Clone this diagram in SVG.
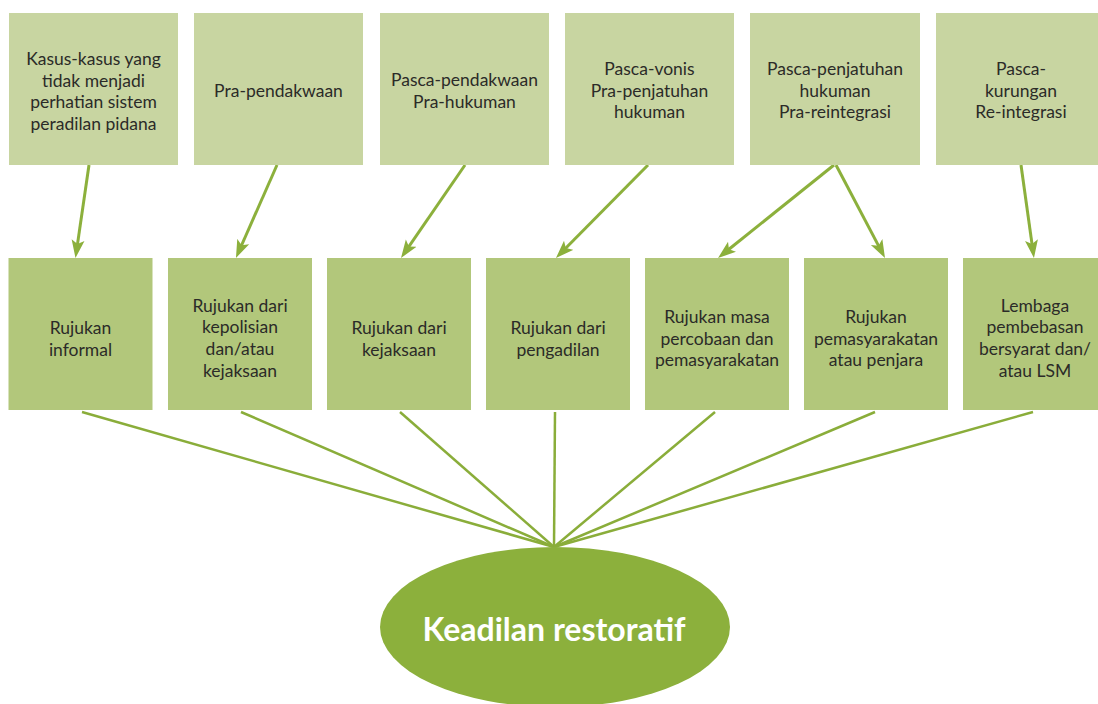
<svg xmlns="http://www.w3.org/2000/svg" width="1098" height="704" viewBox="0 0 1098 704">
<style>
.top{fill:#c8d5a1}
.mid{fill:#b2c77b}
.t{font-family:Lato,"Liberation Sans",sans-serif;font-size:17.5px;fill:#2b2b28;text-anchor:middle}
.arr{stroke:#8cb03c;stroke-width:3;fill:none;marker-end:url(#ah)}
.fan{stroke:#8aad3a;stroke-width:2.5;fill:none}
.big{font-family:Lato,"Liberation Sans",sans-serif;font-weight:bold;font-size:32px;fill:#ffffff;text-anchor:middle}
</style>
<defs>
<marker id="ah" markerUnits="userSpaceOnUse" markerWidth="18" markerHeight="14" refX="6" refY="7" orient="auto" viewBox="0 0 18 14">
<path d="M0,0.5 L18,7 L0,13.5 L4,7 z" fill="#8cb03c"/>
</marker>
</defs>
<rect width="1098" height="704" fill="#ffffff"/>
<g id="connectors">
<line class="arr" x1="89" y1="165" x2="77.2" y2="246.1"/>
<line class="arr" x1="277" y1="165" x2="240.8" y2="247"/>
<line class="arr" x1="465" y1="165" x2="407.8" y2="248.1"/>
<line class="arr" x1="648" y1="165" x2="564.4" y2="249.5"/>
<line class="arr" x1="834" y1="165" x2="727.4" y2="250.5"/>
<line class="arr" x1="836" y1="165" x2="879.4" y2="247.4"/>
<line class="arr" x1="1021" y1="165" x2="1032.3" y2="246.1"/>
<line class="fan" x1="82" y1="412" x2="554" y2="547"/>
<line class="fan" x1="241" y1="412" x2="554" y2="547"/>
<line class="fan" x1="400" y1="412" x2="554" y2="547"/>
<line class="fan" x1="555" y1="412" x2="554" y2="547"/>
<line class="fan" x1="715" y1="412" x2="554" y2="547"/>
<line class="fan" x1="875" y1="412" x2="554" y2="547"/>
<line class="fan" x1="1033" y1="412" x2="554" y2="547"/>
</g>
<g id="n-top1"><rect class="top" x="9" y="13" width="169" height="152"/>
<text class="t" x="93.5" y="65">Kasus-kasus yang</text><text class="t" x="93.5" y="86.7">tidak menjadi</text><text class="t" x="93.5" y="108.3">perhatian sistem</text><text class="t" x="93.5" y="130">peradilan pidana</text></g>
<g id="n-top2"><rect class="top" x="194" y="13" width="169" height="152"/>
<text class="t" x="278.5" y="97">Pra-pendakwaan</text></g>
<g id="n-top3"><rect class="top" x="380" y="13" width="169" height="152"/>
<text class="t" x="464.5" y="86">Pasca-pendakwaan</text><text class="t" x="464.5" y="107.7">Pra-hukuman</text></g>
<g id="n-top4"><rect class="top" x="565" y="13" width="169" height="152"/>
<text class="t" x="649.5" y="75">Pasca-vonis</text><text class="t" x="649.5" y="96.7">Pra-penjatuhan</text><text class="t" x="649.5" y="118.4">hukuman</text></g>
<g id="n-top5"><rect class="top" x="750" y="13" width="170" height="152"/>
<text class="t" x="835" y="75">Pasca-penjatuhan</text><text class="t" x="835" y="96.7">hukuman</text><text class="t" x="835" y="118.4">Pra-reintegrasi</text></g>
<g id="n-top6"><rect class="top" x="936" y="13" width="170" height="152"/>
<text class="t" x="1021" y="75">Pasca-</text><text class="t" x="1021" y="96.7">kurungan</text><text class="t" x="1021" y="118.4">Re-integrasi</text></g>
<g id="n-mid1"><rect class="mid" x="8.5" y="258" width="144" height="152"/>
<text class="t" x="80.5" y="333.5">Rujukan</text><text class="t" x="80.5" y="356">informal</text></g>
<g id="n-mid2"><rect class="mid" x="168" y="258" width="144" height="152"/>
<text class="t" x="240" y="311.7">Rujukan dari</text><text class="t" x="240" y="333.4">kepolisian</text><text class="t" x="240" y="355.1">dan/atau</text><text class="t" x="240" y="376.8">kejaksaan</text></g>
<g id="n-mid3"><rect class="mid" x="327" y="258" width="144" height="152"/>
<text class="t" x="399" y="333.5">Rujukan dari</text><text class="t" x="399" y="356">kejaksaan</text></g>
<g id="n-mid4"><rect class="mid" x="486" y="258" width="144" height="152"/>
<text class="t" x="558" y="333.5">Rujukan dari</text><text class="t" x="558" y="356">pengadilan</text></g>
<g id="n-mid5"><rect class="mid" x="645" y="258" width="144" height="152"/>
<text class="t" x="717" y="323">Rujukan masa</text><text class="t" x="717" y="344.7">percobaan dan</text><text class="t" x="717" y="366.4">pemasyarakatan</text></g>
<g id="n-mid6"><rect class="mid" x="804" y="258" width="144" height="152"/>
<text class="t" x="876" y="323">Rujukan</text><text class="t" x="876" y="344.7">pemasyarakatan</text><text class="t" x="876" y="366.4">atau penjara</text></g>
<g id="n-mid7"><rect class="mid" x="963" y="258" width="144" height="152"/>
<text class="t" x="1035" y="311.7">Lembaga</text><text class="t" x="1035" y="333.4">pembebasan</text><text class="t" x="1035" y="355.1">bersyarat dan/</text><text class="t" x="1035" y="376.8">atau LSM</text></g>
<g id="n-ellipse"><ellipse cx="555" cy="627" rx="175" ry="80" fill="#8cb03c"/>
<text class="big" x="554" y="641">Keadilan restoratif</text></g>
</svg>
